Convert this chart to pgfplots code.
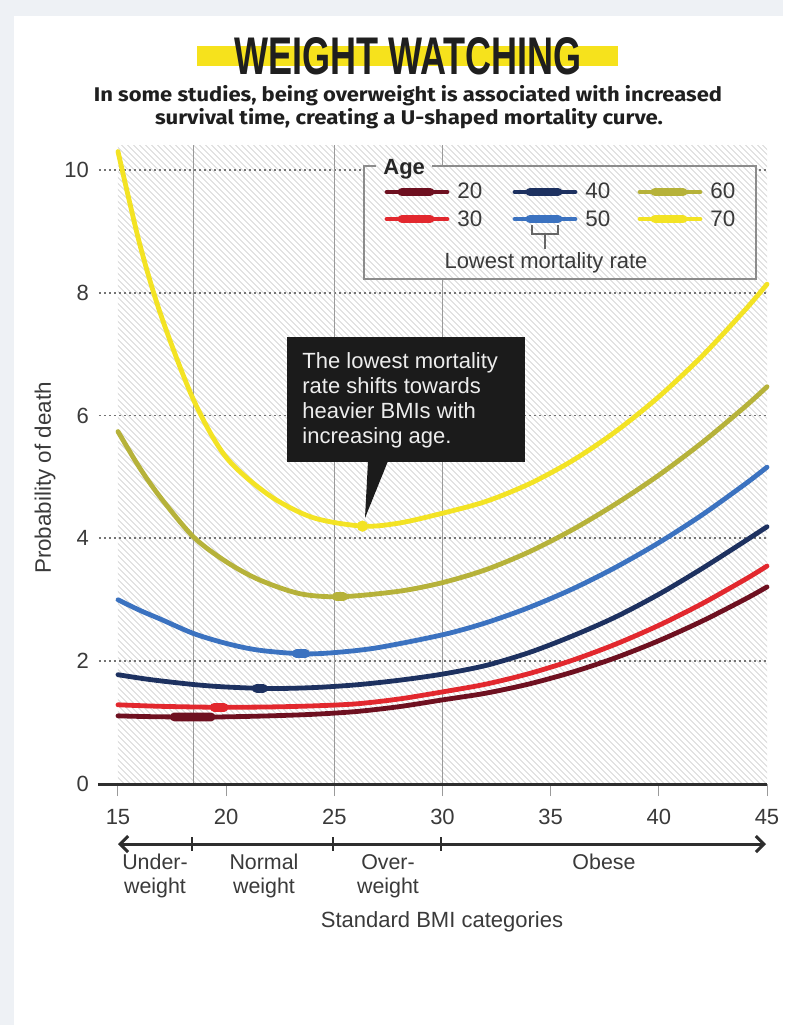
\documentclass[border=0pt]{standalone}
\usepackage{pgfplots}
\pgfplotsset{compat=1.18}
\usepackage{graphicx}
\usepackage{fontspec}
\setmainfont{Liberation Sans}
\newfontfamily\subfont{Fira Sans}
\usetikzlibrary{patterns.meta, arrows.meta}

\definecolor{c20}{HTML}{6E1020}
\definecolor{c30}{HTML}{E2282E}
\definecolor{c40}{HTML}{1D3160}
\definecolor{c50}{HTML}{3B72C0}
\definecolor{c60}{HTML}{B6B23A}
\definecolor{c70}{HTML}{F3E324}
\definecolor{titlebar}{HTML}{F6E21C}
\definecolor{hatch}{HTML}{E2E2E2}
\definecolor{txt}{HTML}{3A3A3A}
\definecolor{frame}{HTML}{8C8C8C}
\definecolor{vline}{HTML}{9A9A9A}
\definecolor{pagebg}{HTML}{EEF1F5}
\definecolor{boxbg}{HTML}{1B1B1B}
\definecolor{axisdark}{HTML}{2E2E2E}

\newcommand\fs[2]{\fontsize{#1}{#2}\selectfont}

\tikzset{
  curve/.style={line width=2.4pt, smooth, line cap=round},
  lowmark/.style={line width=4.4pt, line cap=round},
  hatchfill/.style={pattern={Lines[angle=-45,distance=2.1213pt,line width=0.6pt]}, pattern color=hatch},
}

\begin{document}
\begin{tikzpicture}
% page, title and subtitle (1 unit = 1 px)
\begin{scope}[x=0.5pt,y=-0.5pt]
  \fill[pagebg] (0,0) rectangle (783,1025);
  \fill[white] (14,16) rectangle (783,1025);
  \fill[titlebar] (197,46) rectangle (618,66);
  \node[anchor=base, font=\fs{26.5}{30}\bfseries, text=black!88] at (408,74)
    {\scalebox{0.68}[1]{WEIGHT WATCHING}};
  \node[anchor=base, font=\subfont\fs{9.9}{12}\bfseries, text=black!88] at (408,101)
    {\resizebox{314pt}{\height}{In some studies, being overweight is associated with increased}};
  \node[anchor=base, font=\subfont\fs{9.9}{12}\bfseries, text=black!88] at (409,124)
    {\resizebox{254pt}{\height}{survival time, creating a U-shaped mortality curve.}};
\end{scope}

\begin{axis}[
  at={(59pt,-392pt)}, anchor=south west,
  scale only axis, width=324.5pt, height=319.3pt,
  xmin=15, xmax=45, ymin=0, ymax=10.4,
  clip=false,
  axis x line=bottom, axis y line=left,
  axis line style={draw=none},
  xtick={15,20,...,45}, ytick={0,2,...,10},
  xtick align=outside, ytick align=inside,
  major tick length=6pt,
  x tick style={color=vline, line width=0.5pt},
  y tick style={draw=none},
  /pgf/number format/assume math mode=true,
  xticklabel style={font=\fs{11}{13}, text=txt, yshift=-3pt},
  yticklabel style={font=\fs{11}{13}, text=txt, xshift=-11pt},
]
  % hatched plotting field
  \fill[white] (axis cs:15,0) rectangle (axis cs:45,10.4);
  \fill[hatchfill] (axis cs:15,0) rectangle (axis cs:45,10.4);
  % dotted horizontal grid
  \pgfplotsinvokeforeach{2,4,6,8,10}{
    \draw[color=black!55, line width=0.9pt, dash pattern=on 0.9pt off 1.6pt]
      ([xshift=-9.5pt]axis cs:15,#1) -- (axis cs:45,#1);
  }
  % BMI category boundaries
  \pgfplotsinvokeforeach{18.5,25,30}{
    \draw[vline, line width=0.55pt] (axis cs:#1,0) -- (axis cs:#1,10.4);
  }

  % age 20
  \addplot[c20, curve] coordinates {
    (15,1.11) (16.5,1.097) (18.5,1.09) (20,1.094) (22,1.11) (24,1.135)
    (26,1.18) (28,1.26) (30,1.37) (32,1.479) (34,1.629) (36,1.822)
    (38,2.056) (40,2.334) (42,2.653) (44,3.013) (45,3.21)};
  % age 30
  \addplot[c30, curve] coordinates {
    (15,1.29) (17,1.265) (19.6,1.25) (22,1.255) (24,1.272) (26,1.305)
    (28,1.385) (30,1.5) (32,1.626) (34,1.798) (36,2.015) (38,2.277)
    (40,2.584) (42,2.937) (44,3.334) (45,3.55)};
  % age 40
  \addplot[c40, curve] coordinates {
    (15,1.78) (16.5,1.70) (18.5,1.62) (20,1.58) (22,1.555) (24,1.57)
    (26,1.615) (28,1.69) (30,1.79) (32,1.93) (34,2.14) (36,2.41)
    (38,2.72) (40,3.09) (42,3.51) (44,3.96) (45,4.19)};
  % age 50
  \addplot[c50, curve] coordinates {
    (15,3.0) (16,2.83) (17,2.68) (18.5,2.45) (20,2.29) (21.5,2.18)
    (23.5,2.12) (25,2.14) (27,2.22) (30,2.43) (32,2.625) (34,2.875)
    (36,3.175) (38,3.528) (40,3.93) (42,4.383) (44,4.888) (45,5.16)};
  % age 60
  \addplot[c60, curve] coordinates {
    (15,5.74) (16,5.15) (17,4.65) (18.5,4.02) (20,3.62) (21.5,3.33)
    (23.4,3.10) (25.3,3.05) (28,3.14) (30,3.28) (32,3.49) (34,3.78)
    (36,4.14) (38,4.56) (40,5.03) (42,5.56) (44,6.15) (45,6.47)};
  % age 70
  \addplot[c70, curve] coordinates {
    (15,10.3) (16,8.8) (17,7.62) (18.5,6.25) (20,5.32) (22,4.7)
    (24,4.34) (26.3,4.2) (28,4.25) (30,4.41) (32,4.601) (34,4.886)
    (36,5.265) (38,5.739) (40,6.307) (42,6.969) (44,7.726) (45,8.14)};

  % lowest mortality rate for each age
  \addplot[c20, lowmark] coordinates {(17.6,1.092) (18.5,1.09) (19.3,1.092)};
  \addplot[c30, lowmark] coordinates {(19.45,1.25) (19.9,1.25)};
  \addplot[c40, lowmark] coordinates {(21.4,1.557) (21.72,1.556)};
  \addplot[c50, lowmark] coordinates {(23.25,2.12) (23.67,2.12)};
  \addplot[c60, lowmark] coordinates {(25.1,3.05) (25.42,3.05)};
  \addplot[c70, only marks, mark=*, mark size=2.6pt] coordinates {(26.3,4.2)};

  % x axis line
  \draw[axisdark, line width=1.5pt] ([xshift=-10pt]axis cs:15,0) -- (axis cs:45,0);
\end{axis}

\begin{scope}[x=0.5pt,y=-0.5pt]
  % legend panel
  \fill[white] (364,166) rectangle (756,279);
  \fill[hatchfill] (364,166) rectangle (756,279);
  \draw[frame, line width=0.6pt] (376,166) -- (364,166) -- (364,279) -- (756,279) -- (756,166) -- (432,166);
  \node[anchor=base west, font=\fs{11}{13}\bfseries, text=black!85, inner sep=0] at (383,174) {Age};
  \foreach \col/\x/\ya in {c20/385/20,c40/513/40,c60/638/60}{
    \draw[\col, line width=2.4pt, line cap=round] (\x+2,192) -- (\x+62,192);
    \draw[\col, line width=4.4pt, line cap=round] (\x+17,192) -- (\x+45,192);
    \node[anchor=base west, font=\fs{11.2}{13}, text=txt, inner sep=0] at (\x+72,198) {\ya};
  }
  \foreach \col/\x/\ya in {c30/385/30,c50/513/50,c70/638/70}{
    \draw[\col, line width=2.4pt, line cap=round] (\x+2,219) -- (\x+62,219);
    \draw[\col, line width=4.4pt, line cap=round] (\x+17,219) -- (\x+45,219);
    \node[anchor=base west, font=\fs{11.2}{13}, text=txt, inner sep=0] at (\x+72,226) {\ya};
  }
  \draw[black!60, line width=0.6pt] (532,225) -- (532,234) -- (558,234) -- (558,225);
  \draw[black!60, line width=0.6pt] (545,234) -- (545,249);
  \node[anchor=base, font=\fs{11}{13}, text=txt] at (546,268) {Lowest mortality rate};

  % callout
  \fill[boxbg] (287,337) rectangle (525,462);
  \fill[boxbg] (368,461) -- (388,461) -- (365,518) -- cycle;
  \foreach \t/\yb in {The lowest mortality/368,rate shifts towards/393,heavier BMIs with/418,increasing age./443}{
    \node[anchor=base west, font=\fs{11}{13}, text=white!93!black, inner sep=0] at (302,\yb) {\t};
  }

  % axis title
  \node[rotate=90, font=\fs{11.2}{13}, text=txt] at (45,478) {Probability of death};

  % BMI category scale
  \draw[axisdark, line width=1.5pt, {Straight Barb[length=4pt,width=8pt]}-{Straight Barb[length=4pt,width=8pt]}] (118,844) -- (766,844);
  \foreach \x in {192,333,441}{\draw[axisdark, line width=1.2pt] (\x,837) -- (\x,851);}
  \begin{scope}[every node/.style={anchor=base, font=\fs{10.7}{12}, text=txt}]
    \node at (155,869) {Under-};
    \node at (155,893) {weight};
    \node at (264,869) {Normal};
    \node at (264,893) {weight};
    \node at (388,869) {Over-};
    \node at (388,893) {weight};
    \node at (604,869) {Obese};
    \node[font=\fs{11}{13}] at (442,927) {Standard BMI categories};
  \end{scope}
\end{scope}
\end{tikzpicture}
\end{document}
